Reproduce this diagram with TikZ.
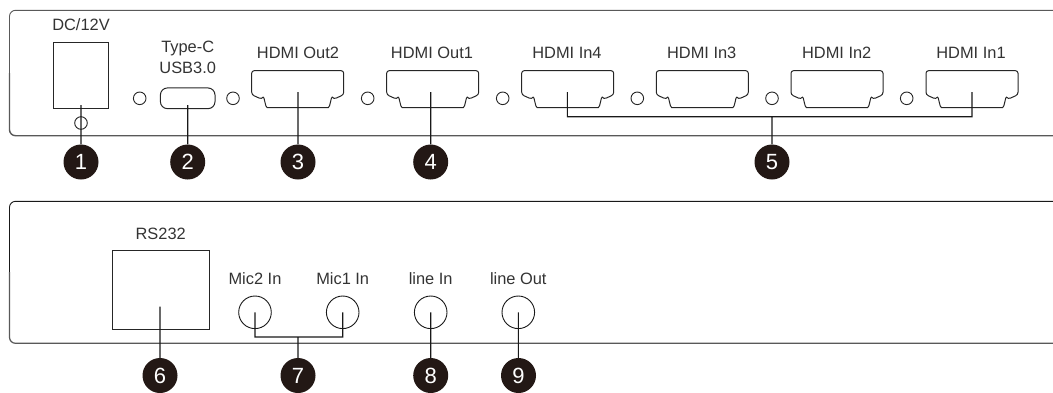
\documentclass[tikz,border=0pt]{standalone}
\usepackage{fontspec}
\setmainfont{Liberation Sans}
\tikzset{
    panel/.style={
           draw=black!65, line width=0.9pt,
           rounded corners=6pt,
           },
    portbox/.style={
           rectangle,
           draw=black!85, line width=1pt,
           inner sep=0pt,
           },
    led/.style={
           circle,
           draw=black!85, line width=0.9pt,
           minimum size=12.6pt,
           inner sep=0pt,
           },
    jack/.style={
           circle,
           draw=black!90, line width=0.9pt,
           minimum size=32.6pt,
           inner sep=0pt,
           },
    caption/.style={
           font=\fontsize{16.4}{18}\selectfont,
           text=black!80,
           inner sep=0pt,
           },
    number/.style={
           circle,
           fill=badge,
           text=white,
           minimum size=35pt,
           inner sep=0pt,
           font=\fontsize{22}{24}\selectfont,
           },
    lead/.style={
           draw=black!90, line width=1.1pt,
           },
    hdmiport/.pic={
           \draw[black!85, line width=1pt, rounded corners=2.5pt]
             (0,0) -- (92,0) -- (92,24) -- (82,28.5)
             to[out=125,in=0] (74,37) -- (18,37)
             to[out=180,in=55] (10,28.5) -- (0,24) -- cycle;
           },
}
\definecolor{badge}{HTML}{231815}

\begin{document}
\begin{tikzpicture}[x=1pt,y=-1pt]
 \useasboundingbox (0,0) rectangle (1053,392);

 % front panel
 \path[panel] (1053,10.3) -| (9.5,73);
 \path[panel, line width=1.4pt] (9.5,73) |- (1053,135.7);

 % rear panel
 \path[panel, draw=black!90] (1053,201.3) -| (9.5,272);
 \path[panel, line width=1.2pt] (9.5,272) |- (1053,343.3);

 % DC socket and USB
 \node[portbox, minimum width=55.6pt, minimum height=66.4pt] (DC) at (81,75.5) {};
 \node[led] (DCHOLE) at (81,123) {};
 \node[portbox, rounded corners=7pt, minimum width=54.6pt, minimum height=20.7pt] (USB) at (187.7,98.3) {};
 \node[caption] (DCTXT) at (81,25) {DC/12V};
 \node[caption] (USBTXT) at (187.7,48.3) {Type-C};
 \node[caption] (USBTXTB) at (187.7,68) {USB3.0};

 % the small holes
 \foreach \x/\n in {139.7/1,233/2,367.7/3,502.7/4,637.3/5,772/6,906.7/7}
   \node[led] (LED\n) at (\x,98.3) {};

 % HDMI ports: left edge / caption position / caption
 \foreach \x/\t/\n/\lbl in {251.7/298/A/HDMI Out2,
                         386.7/432/B/HDMI Out1,
                         521.7/567/C/HDMI In4,
                         656.3/701.7/D/HDMI In3,
                         791/836.7/E/HDMI In2,
                         926/971/F/HDMI In1}{
   \pic at (\x,70.7) {hdmiport};
   \node[caption] (TXT\n) at (\t,52.5) {\lbl};
 }

 % RS232 and audio
 \node[portbox, minimum width=97pt, minimum height=79pt] (RS) at (161.2,289.5) {};
 \node[caption] (RSTXT) at (160.7,234.3) {RS232};
 \foreach \x/\n/\lbl in {255/A/Mic2 In,342.7/B/Mic1 In,430.7/C/line In,518.3/D/line Out}{
   \node[jack] (JACK\n) at (\x,312.3) {};
   \node[caption] (JACKTXT\n) at (\x,278.7) {\lbl};
 }

 % numbers
 \foreach \x/\n in {81/1,187.7/2,298/3,430.7/4,772/5}
   \node[number] (NUM\n) at (\x,162) {\n};
 \foreach \x/\n in {160/6,298/7,430.7/8,518.5/9}
   \node[number] (NUM\n) at (\x,375.5) {\n};

 % free ends of the leads
 \coordinate (TIP1) at (81,105);
 \coordinate (TIP2) at (187.7,105);
 \coordinate (TIP3) at (298,92);
 \coordinate (TIP4) at (430.7,92);
 \coordinate (TIP5A) at (567.3,92);
 \coordinate (TIP5B) at (972,92);
 \coordinate (BUS5) at (772,116.7);
 \coordinate (TIP6) at (160,306.7);
 \coordinate (TIP7A) at (255,312.3);
 \coordinate (TIP7B) at (342.7,312.3);
 \coordinate (BUS7) at (298,337);
 \coordinate (TIP8) at (430.7,312.3);
 \coordinate (TIP9) at (518.3,312.3);

 % draw the leads
 \path[lead] (TIP1) -- (NUM1)
 (TIP2) -- (NUM2)
 (TIP3) -- (NUM3)
 (TIP4) -- (NUM4)
 (TIP5A) |- (BUS5) -| (TIP5B)
 (BUS5) -- (NUM5)
 (TIP6) -- (NUM6)
 (TIP7A) |- (BUS7) -| (TIP7B)
 (BUS7) -- (NUM7)
 (TIP8) -- (NUM8)
 (TIP9) -- (NUM9);

\end{tikzpicture}
\end{document}
